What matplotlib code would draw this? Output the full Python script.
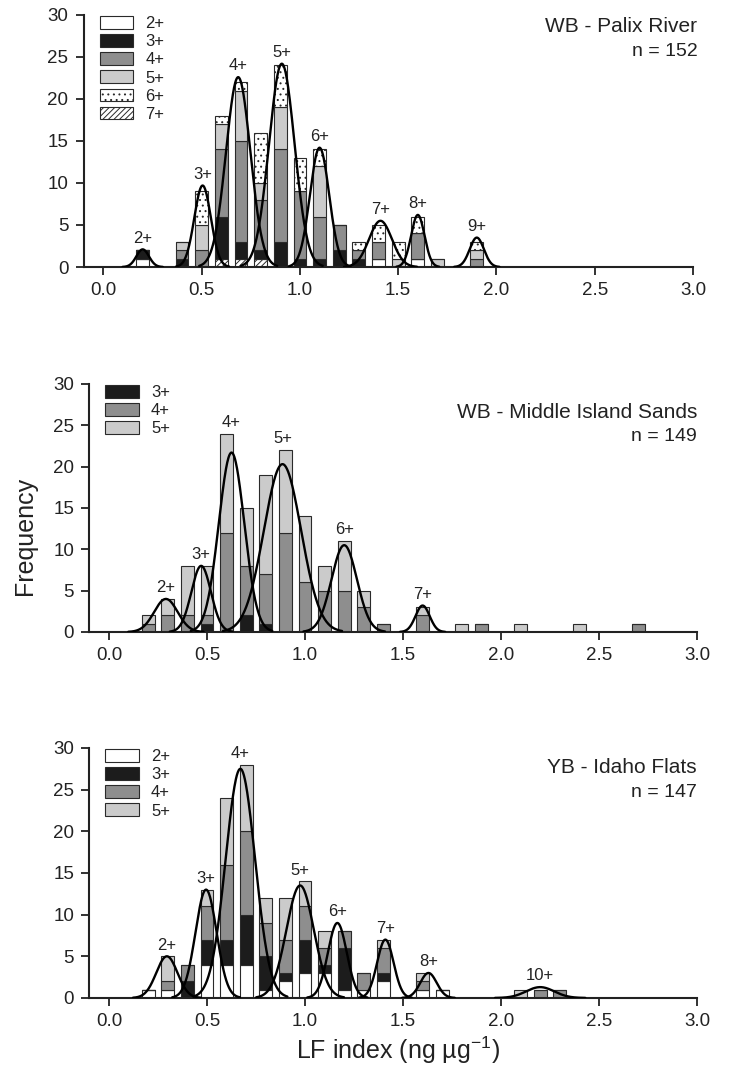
import numpy as np
import matplotlib
matplotlib.use('Agg')
import matplotlib.pyplot as plt

plt.rcParams['font.family'] = ['Liberation Sans', 'DejaVu Sans']
plt.rcParams['mathtext.fontset'] = 'custom'
plt.rcParams['mathtext.rm'] = 'Liberation Sans'
plt.rcParams['hatch.linewidth'] = 0.7

# ---- Panel 1: WB - Palix River ----
p1_bins = [0.2, 0.4, 0.5, 0.6, 0.7, 0.8, 0.9, 1.0, 1.1, 1.2, 1.3, 1.4, 1.5, 1.6, 1.7, 1.9]
p1_age2 = [1, 0, 0, 0, 0, 0, 0, 0, 0, 0, 0, 1, 0, 1, 0, 0]
p1_age7 = [0, 0, 0, 1, 1, 1, 0, 0, 0, 0, 0, 0, 0, 0, 0, 0]
p1_age3 = [1, 1, 0, 5, 2, 1, 3, 1, 1, 2, 1, 0, 0, 0, 0, 0]
p1_age4 = [0, 1, 2, 8, 12, 6, 11, 8, 5, 3, 1, 2, 0, 3, 0, 1]
p1_age5 = [0, 1, 3, 3, 6, 2, 5, 0, 6, 0, 0, 0, 1, 0, 1, 1]
p1_age6 = [0, 0, 4, 1, 1, 6, 5, 4, 2, 0, 1, 2, 2, 2, 0, 1]
p1_fit_labels = ['2+', '3+', '4+', '5+', '6+', '7+', '8+', '9+']
p1_fit_mean = [0.20, 0.505, 0.686, 0.908, 1.10, 1.41, 1.60, 1.90]
p1_fit_peak = [2.1, 9.7, 22.6, 24.2, 14.2, 5.5, 6.2, 3.5]
p1_fit_sd = [0.032, 0.042, 0.062, 0.065, 0.049, 0.058, 0.034, 0.036]

# ---- Panel 2: WB - Middle Island Sands ----
p2_bins = [0.2, 0.3, 0.4, 0.5, 0.6, 0.7, 0.8, 0.9, 1.0, 1.1, 1.2, 1.3, 1.4, 1.6, 1.8, 1.9, 2.1, 2.4, 2.7]
p2_age3 = [0, 0, 0, 1, 0, 2, 1, 0, 0, 0, 0, 0, 0, 0, 0, 0, 0, 0, 0]
p2_age4 = [1, 2, 2, 1, 12, 6, 6, 12, 6, 5, 5, 3, 1, 2, 0, 1, 0, 0, 1]
p2_age5 = [1, 2, 6, 6, 12, 7, 12, 10, 8, 3, 6, 2, 0, 1, 1, 0, 1, 1, 0]
p2_fit_labels = ['2+', '3+', '4+', '5+', '6+', '7+']
p2_fit_mean = [0.29, 0.47, 0.625, 0.885, 1.20, 1.60]
p2_fit_peak = [4.0, 8.0, 21.7, 20.3, 10.5, 3.2]
p2_fit_sd = [0.06, 0.05, 0.065, 0.095, 0.065, 0.036]

# ---- Panel 3: YB - Idaho Flats ----
p3_bins = [0.2, 0.3, 0.4, 0.5, 0.6, 0.7, 0.8, 0.9, 1.0, 1.1, 1.2, 1.3, 1.4, 1.6, 1.7, 2.1, 2.2, 2.3]
p3_age2 = [1, 1, 0, 4, 4, 4, 1, 2, 3, 3, 1, 1, 2, 1, 1, 0, 0, 0]
p3_age3 = [0, 0, 2, 3, 3, 6, 4, 1, 4, 1, 5, 0, 1, 0, 0, 0, 0, 0]
p3_age4 = [0, 1, 2, 4, 9, 10, 4, 4, 4, 2, 2, 2, 3, 1, 0, 0, 1, 1]
p3_age5 = [0, 3, 0, 2, 8, 8, 3, 5, 3, 2, 0, 0, 1, 1, 0, 1, 0, 0]
p3_fit_labels = ['2+', '3+', '4+', '5+', '6+', '7+', '8+', '10+']
p3_fit_mean = [0.295, 0.495, 0.67, 0.975, 1.165, 1.41, 1.63, 2.20]
p3_fit_peak = [5.0, 13.0, 27.5, 13.5, 9.0, 7.0, 3.0, 1.3]
p3_fit_sd = [0.054, 0.054, 0.075, 0.07, 0.048, 0.042, 0.042, 0.072]

# bar styles per age class
styles = {
    '2+': dict(color='white', hatch=None),
    '3+': dict(color='#1c1c1c', hatch=None),
    '4+': dict(color='#8e8e8e', hatch=None),
    '5+': dict(color='#cbcbcb', hatch=None),
    '6+': dict(color='white', hatch='...'),
    '7+': dict(color='white', hatch='//////'),
}

fig = plt.figure(figsize=(7.31, 10.71), dpi=100)
ax1 = fig.add_axes([0.1145, 0.7507, 0.8335, 0.2353])
ax2 = fig.add_axes([0.1224, 0.4099, 0.8310, 0.2316])
ax3 = fig.add_axes([0.1224, 0.0682, 0.8310, 0.2334])


def draw_panel(ax, bins, stacks, legend_order, means, peaks, sds, labels,
               title, n, title_y, n_y, title_x):
    bins = np.array(bins)
    bottom = np.zeros(len(bins))
    handles = {}
    for age, counts in stacks:
        counts = np.array(counts, dtype=float)
        st = styles[age]
        b = ax.bar(bins, counts, width=0.065, bottom=bottom, color=st['color'],
                   hatch=st['hatch'], edgecolor='#2a2a2a', linewidth=0.8, zorder=2)
        handles[age] = b
        bottom += counts
    totals = bottom

    # fitted normal curves
    for mu, pk, sd, lab in zip(means, peaks, sds, labels):
        xs = np.linspace(mu - 3.2 * sd, mu + 3.2 * sd, 200)
        ys = pk * np.exp(-0.5 * ((xs - mu) / sd) ** 2)
        ax.plot(xs, ys, color='black', lw=1.7, zorder=3, solid_capstyle='round')
        near = totals[np.abs(bins - mu) <= 0.05]
        top = max([pk] + list(near))
        ax.text(mu, top + 0.45, lab, ha='center', va='bottom', fontsize=12,
                color='#222222', zorder=4)

    ax.set_xlim(-0.1, 3.0)
    ax.set_ylim(0, 30)
    ax.set_xticks(np.arange(0, 3.01, 0.5))
    ax.set_xticklabels([f'{v:.1f}' for v in np.arange(0, 3.01, 0.5)])
    ax.set_yticks(range(0, 31, 5))
    for s in ['top', 'right']:
        ax.spines[s].set_visible(False)
    for s in ['left', 'bottom']:
        ax.spines[s].set_linewidth(1.5)
        ax.spines[s].set_color('#222222')
    ax.tick_params(direction='out', length=6, width=1.3, labelsize=13.5,
                   colors='#222222', pad=5)

    ax.text(title_x, title_y, title, transform=ax.transAxes, ha='right',
            va='center', fontsize=15, color='#222222')
    ax.text(title_x, n_y, f'n = {n}', transform=ax.transAxes, ha='right',
            va='center', fontsize=14, color='#222222')

    leg = ax.legend([handles[a] for a in legend_order], legend_order,
                    loc='upper left', bbox_to_anchor=(0.026, 0.995),
                    frameon=False, fontsize=12, handlelength=2.0,
                    handleheight=0.78, labelspacing=0.18, handletextpad=0.75,
                    borderpad=0, borderaxespad=0)
    for t in leg.get_texts():
        t.set_color('#222222')


draw_panel(ax1, p1_bins,
           [('2+', p1_age2), ('7+', p1_age7), ('3+', p1_age3), ('4+', p1_age4),
            ('5+', p1_age5), ('6+', p1_age6)],
           ['2+', '3+', '4+', '5+', '6+', '7+'],
           p1_fit_mean, p1_fit_peak, p1_fit_sd, p1_fit_labels,
           'WB - Palix River', 152, 0.954, 0.854, 1.007)

draw_panel(ax2, p2_bins,
           [('3+', p2_age3), ('4+', p2_age4), ('5+', p2_age5)],
           ['3+', '4+', '5+'],
           p2_fit_mean, p2_fit_peak, p2_fit_sd, p2_fit_labels,
           'WB - Middle Island Sands', 149, 0.883, 0.788, 1.0)

draw_panel(ax3, p3_bins,
           [('2+', p3_age2), ('3+', p3_age3), ('4+', p3_age4), ('5+', p3_age5)],
           ['2+', '3+', '4+', '5+'],
           p3_fit_mean, p3_fit_peak, p3_fit_sd, p3_fit_labels,
           'YB - Idaho Flats', 147, 0.92, 0.821, 1.0)

fig.text(0.034, 0.5, 'Frequency', rotation=90, ha='center', va='center',
         fontsize=18, color='#222222')
fig.text(0.545, 0.019, r'LF index (ng µg$^{\mathregular{-1}}$)', ha='center',
         va='center', fontsize=18, color='#222222')

fig.savefig('out.png', dpi=100)
